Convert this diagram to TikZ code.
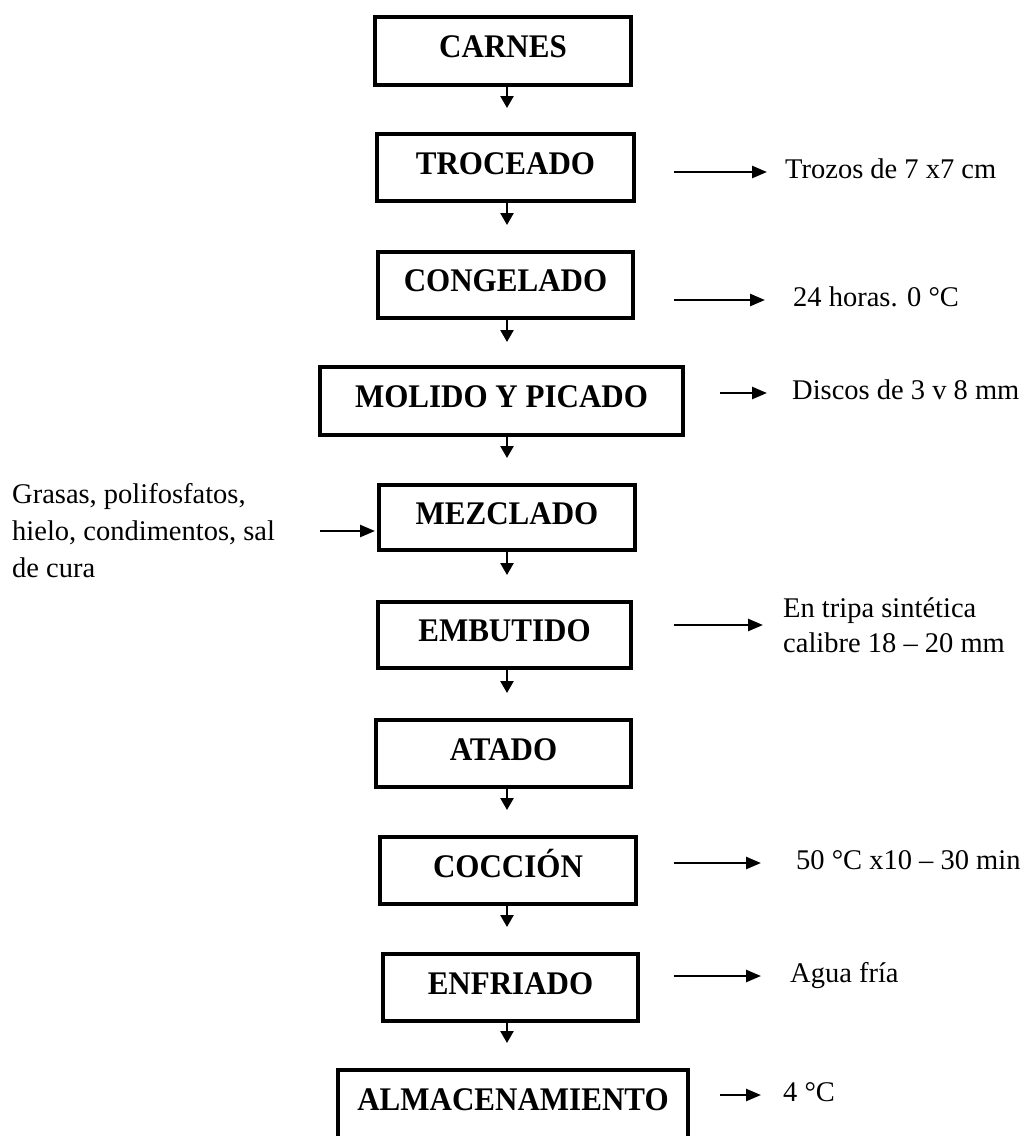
\documentclass[tikz,border=0pt]{standalone}
\usepackage{fontspec}
\setmainfont{Liberation Serif}
\newfontfamily\boxfont[FakeStretch=0.94]{Liberation Serif}
\usetikzlibrary{arrows.meta}
\begin{document}
\begin{tikzpicture}[x=1pt,y=-1pt,
  proc/.style={draw, line width=4pt, inner sep=0pt,
    font=\boxfont\bfseries\fontsize{33}{40}\selectfont,
    text height=22pt, text depth=9pt},
  lab/.style={inner sep=0pt, anchor=west,
    font=\fontsize{28.5}{35}\selectfont, text height=19pt, text depth=6pt},
  labml/.style={inner sep=0pt, anchor=west, align=left,
    font=\fontsize{28.5}{35}\selectfont},
  varr/.style={line width=2.5pt, -{Triangle[length=12pt,width=13pt]}},
  harr/.style={line width=2.5pt, -{Triangle[length=15pt,width=12pt]}},
]
\useasboundingbox (0,0) rectangle (1023,1136);

% process boxes
\node[proc, minimum width=256pt, minimum height=68pt] (carnes)    at (503,51)     {CARNES};
\node[proc, minimum width=257pt, minimum height=67pt] (troceado)  at (505.5,167.5) {TROCEADO};
\node[proc, minimum width=255pt, minimum height=66pt] (congelado) at (505.5,285)  {CONGELADO};
\node[proc, minimum width=363pt, minimum height=68pt] (molido)    at (501.5,401)  {MOLIDO Y PICADO};
\node[proc, minimum width=256pt, minimum height=65pt] (mezclado)  at (507,517.5)  {MEZCLADO};
\node[proc, minimum width=253pt, minimum height=66pt] (embutido)  at (504.5,635)  {EMBUTIDO};
\node[proc, minimum width=255pt, minimum height=67pt] (atado)     at (503.5,753.5) {ATADO};
\node[proc, minimum width=256pt, minimum height=67pt] (coccion)   at (508,870.5)  {COCCIÓN};
\node[proc, minimum width=255pt, minimum height=67pt] (enfriado)  at (510.5,987.5) {ENFRIADO};
\node[proc, minimum width=350pt, minimum height=68pt] (almacen)   at (513,1104)   {ALMACENAMIENTO};

% arrow tips between boxes
\coordinate (t1) at (507,108);
\coordinate (t2) at (507,225);
\coordinate (t3) at (507,342);
\coordinate (t4) at (507,458);
\coordinate (t5) at (507,575);
\coordinate (t6) at (507,693);
\coordinate (t7) at (507,810);
\coordinate (t8) at (507,927);
\coordinate (t9) at (507,1043);

\draw[varr] (carnes.south -| t1)    -- (t1);
\draw[varr] (troceado.south -| t2)  -- (t2);
\draw[varr] (congelado.south -| t3) -- (t3);
\draw[varr] (molido.south -| t4)    -- (t4);
\draw[varr] (mezclado.south -| t5)  -- (t5);
\draw[varr] (embutido.south -| t6)  -- (t6);
\draw[varr] (atado.south -| t7)     -- (t7);
\draw[varr] (coccion.south -| t8)   -- (t8);
\draw[varr] (enfriado.south -| t9)  -- (t9);

% side labels
\node[lab]   (l2)  at (785,172)  {Trozos de 7 x7 cm};
\node[lab]   (l3)  at (793,300)  {24 horas. 0 °C};
\node[lab]   (l4)  at (792,393)  {Discos de 3 v 8 mm};
\node[labml] (l6)  at (783,625)  {En tripa sintética\\calibre 18 – 20 mm};
\node[lab]   (l8)  at (796,863)  {50 °C x10 – 30 min};
\node[lab]   (l9)  at (790,976)  {Agua fría};
\node[lab]   (l10) at (783,1095) {4 °C};

\draw[harr, shorten <=38pt, shorten >=18pt] (troceado.east |- l2.west)  -- (l2.west);
\draw[harr, shorten <=39pt, shorten >=28pt] (congelado.east |- l3.west) -- (l3.west);
\draw[harr, shorten <=35pt, shorten >=25pt] (molido.east |- l4.west)    -- (l4.west);
\draw[harr, shorten <=41pt, shorten >=20pt] (embutido.east |- l6.west)  -- (l6.west);
\draw[harr, shorten <=36pt, shorten >=35pt] (coccion.east |- l8.west)   -- (l8.west);
\draw[harr, shorten <=34pt, shorten >=29pt] (enfriado.east |- l9.west)  -- (l9.west);
\draw[harr, shorten <=30pt, shorten >=22pt] (almacen.east |- l10.west)  -- (l10.west);

% ingredients entering MEZCLADO
\node[labml, font=\fontsize{28.5}{37}\selectfont] (ing) at (12,531)
  {Grasas, polifosfatos,\\hielo, condimentos, sal\\de cura};
\draw[harr, shorten <=45pt, shorten >=2pt] (ing.east) -- (ing.east -| mezclado.west);
\end{tikzpicture}
\end{document}
